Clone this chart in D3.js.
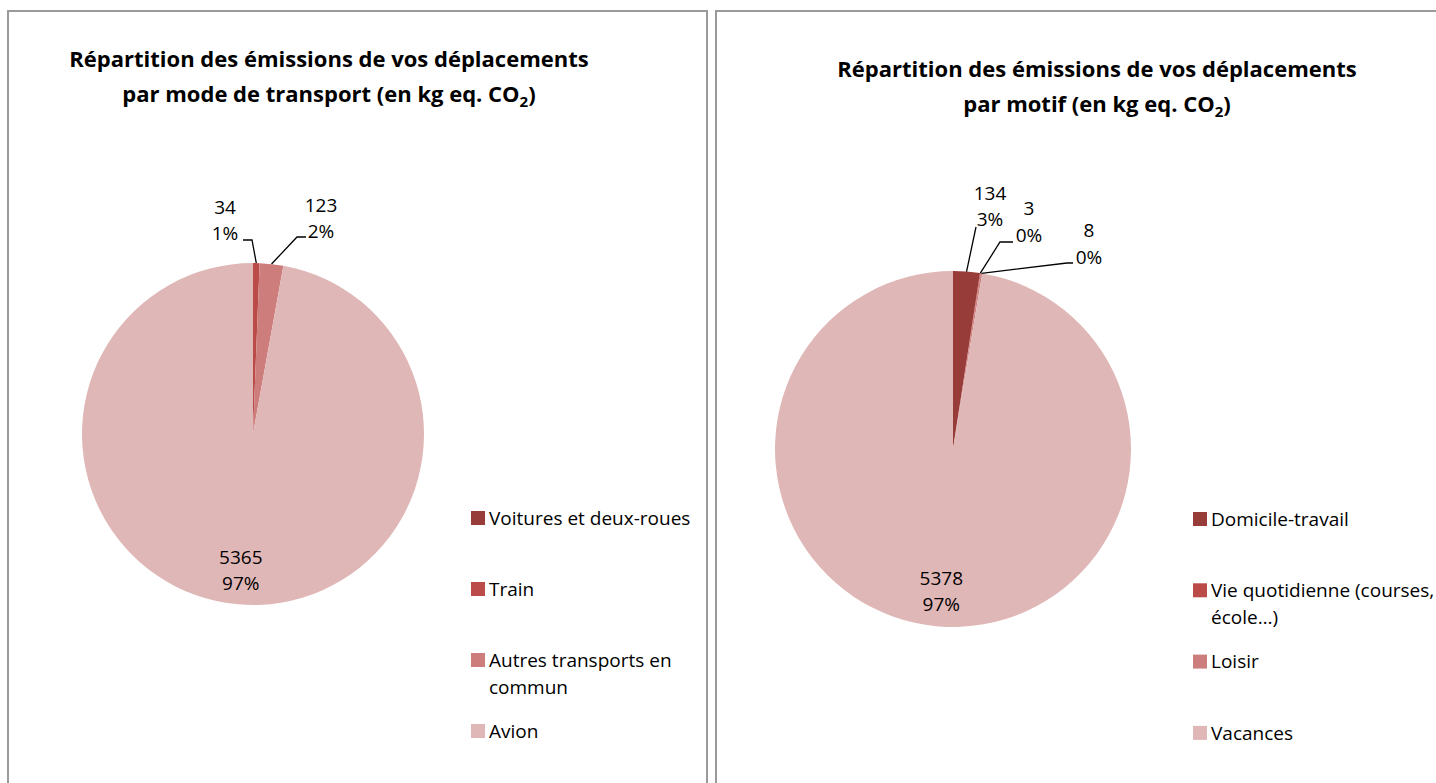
<!DOCTYPE html>
<html>
<head>
<meta charset="utf-8">
<script src="https://cdn.jsdelivr.net/npm/d3@7"></script>
<style>
  body { margin: 0; background: #fff; }
  svg { display: block; font-family: 'Open Sans', Lato, sans-serif; }
</style>
</head>
<body>
<svg id="chart" width="1436" height="783"></svg>
<script>
'use strict';

// --- data ---
const modeCategories = ['Voitures et deux-roues', 'Train', 'Autres transports en commun', 'Avion'];
const modeValues = [0, 34, 123, 5365];
const modePercents = ['0%', '1%', '2%', '97%'];

const motifCategories = ['Domicile-travail', 'Vie quotidienne (courses, école…)', 'Loisir', 'Vacances'];
const motifValues = [134, 3, 8, 5378];
const motifPercents = ['3%', '0%', '0%', '97%'];

const colors = ['#983c3a', '#bb4b49', '#cd7d7b', '#e0b7b7'];

/**
 * Excel-like pie with legend on the right.
 * @return {Object} chart function
 */
function pieChart() {
    let cx = 0, cy = 0, radius = 100;
    let titleLines = [];
    let titleX = 0, titleY = 0;
    let legendX = 0, legendY = 0, legendStep = 71, legendWrap = 210;
    let outside = [];   // label offsets + leader elbows for small slices

    let chart = function(selection) {
        selection.each(function(data, i, nodes) {
            let s = d3.select(nodes[i]);

            let pie = d3.pie()
                .sort(null)
                .value(function(d) { return d.value; });
            let arcs = pie(data);

            let arc = d3.arc().innerRadius(0).outerRadius(radius);
            let edge = d3.arc().innerRadius(radius).outerRadius(radius);
            let inner = d3.arc().innerRadius(radius * 0.8).outerRadius(radius * 0.8);

            let g = s.append('g')
                .attr('transform', 'translate(' + cx + ',' + cy + ')');

            g.selectAll('.slice')
                .data(arcs)
                .enter().append('path')
                .attr('class', 'slice')
                .attr('d', arc)
                .style('fill', function(d, j) { return colors[j]; });

            // labels
            arcs.forEach(function(d, j) {
                let o = outside[j];
                let pos, line;
                if (d.data.value === 0) return;
                if (o) {
                    pos = o.label;
                    let p = edge.centroid(d);
                    line = [p].concat(o.leader);
                    g.append('path')
                        .attr('d', d3.line()(line))
                        .style('fill', 'none')
                        .style('stroke', '#000')
                        .style('stroke-width', 1.3);
                } else {
                    let c = inner.centroid(d);
                    pos = [c[0], c[1] - 13];
                }
                let t = g.append('text')
                    .attr('text-anchor', 'middle')
                    .style('font-size', '19px')
                    .style('fill', '#000');
                t.append('tspan')
                    .attr('x', pos[0]).attr('y', pos[1]).attr('dy', '0.35em')
                    .text(d.data.value);
                t.append('tspan')
                    .attr('x', pos[0]).attr('y', pos[1] + 26.5).attr('dy', '0.35em')
                    .text(d.data.pct);
            });

            // title
            let title = s.append('text')
                .attr('text-anchor', 'middle')
                .style('font-size', '22px')
                .style('font-weight', 'bold')
                .style('fill', '#000');
            titleLines.forEach(function(l, j) {
                let ts = title.append('tspan')
                    .attr('x', titleX)
                    .attr('y', titleY + j * 34.5);
                if (l.endsWith('CO2)')) {
                    ts.text(l.slice(0, -2));
                    ts.append('tspan')
                        .attr('dy', 5)
                        .style('font-size', '15px')
                        .text('2');
                    ts.append('tspan')
                        .attr('dy', -5)
                        .text(')');
                } else {
                    ts.text(l);
                }
            });

            // legend
            let leg = s.selectAll('.legend-item')
                .data(data)
                .enter().append('g')
                .attr('class', 'legend-item')
                .attr('transform', function(d, j) {
                    return 'translate(' + legendX + ',' + (legendY + j * legendStep) + ')';
                });
            leg.append('rect')
                .attr('x', 0).attr('y', -7)
                .attr('width', 14).attr('height', 14)
                .style('fill', function(d, j) { return colors[j]; });
            leg.append('text')
                .attr('x', 18)
                .attr('y', 0)
                .style('font-size', '19px')
                .style('fill', '#000')
                .each(function(d, j, els) {
                    let t = d3.select(els[j]);
                    let words = d.name.split(' ');
                    let ln = [];
                    let n = 0;
                    let ts = t.append('tspan').attr('x', 18).attr('dy', '0.35em');
                    words.forEach(function(w) {
                        ln.push(w);
                        ts.text(ln.join(' '));
                        if (ts.node().getComputedTextLength() > legendWrap && ln.length > 1) {
                            ln.pop();
                            ts.text(ln.join(' '));
                            ln = [w];
                            n++;
                            ts = t.append('tspan').attr('x', 18).attr('y', n * 27).attr('dy', '0.35em').text(w);
                        }
                    });
                });
        });
    };

    chart.center = function(x, y) { cx = x; cy = y; return chart; };
    chart.radius = function(v) { radius = v; return chart; };
    chart.title = function(lines, x, y) { titleLines = lines; titleX = x; titleY = y; return chart; };
    chart.legend = function(x, y, step, wrap) {
        legendX = x; legendY = y; legendStep = step; legendWrap = wrap;
        return chart;
    };
    chart.outside = function(v) { outside = v; return chart; };

    return chart;
}

function rows(names, values, pcts) {
    return names.map(function(n, i) {
        return {name: n, value: values[i], pct: pcts[i]};
    });
}

let svg = d3.select('#chart');

// panel frames
svg.append('rect')
    .attr('x', 8).attr('y', 11).attr('width', 699).attr('height', 800)
    .style('fill', 'none').style('stroke', '#9a9a9a').style('stroke-width', 2);
svg.append('rect')
    .attr('x', 716).attr('y', 11).attr('width', 760).attr('height', 800)
    .style('fill', 'none').style('stroke', '#9a9a9a').style('stroke-width', 2);

let left = pieChart()
    .center(253, 434)
    .radius(171)
    .title(['Répartition des émissions de vos déplacements',
        'par mode de transport (en kg eq. CO2)'], 329, 67)
    .legend(471, 518, 71, 215)
    .outside([null,
        {label: [-28, -227], leader: [[-1, -194], [-10, -194]]},
        {label: [68, -229], leader: [[44, -197], [53, -197]]},
        null]);

let right = pieChart()
    .center(953, 449)
    .radius(178)
    .title(['Répartition des émissions de vos déplacements',
        'par motif (en kg eq. CO2)'], 1097, 77)
    .legend(1193, 519, 71.3, 235)
    .outside([
        {label: [37, -256], leader: [[23, -222]]},
        {label: [76, -240.5], leader: [[47, -207], [60, -207]]},
        {label: [136, -218.5], leader: [[114, -186], [120, -186]]},
        null]);

svg.append('g').datum(rows(modeCategories, modeValues, modePercents)).call(left);
svg.append('g').datum(rows(motifCategories, motifValues, motifPercents)).call(right);
</script>
</body>
</html>
